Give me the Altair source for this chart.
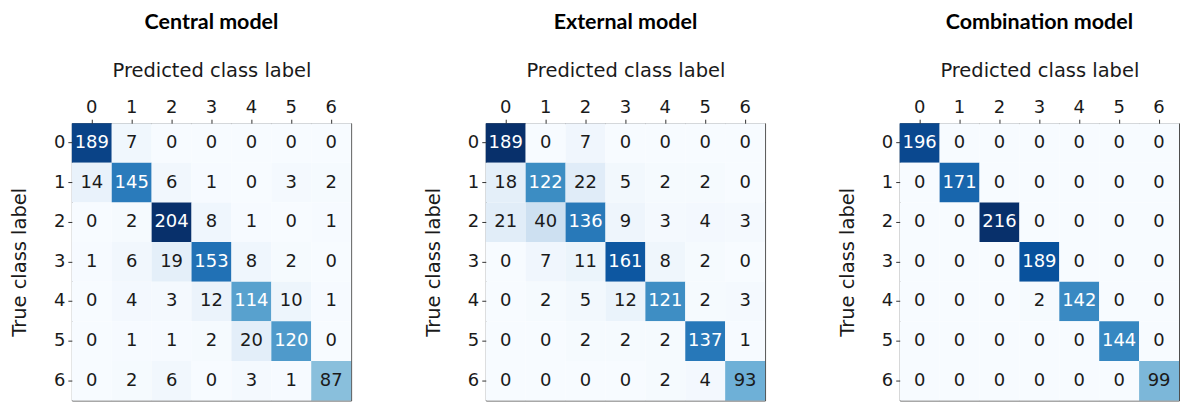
import altair as alt
import pandas as pd

classes = [0, 1, 2, 3, 4, 5, 6]

central = [
    [189, 7, 0, 0, 0, 0, 0],
    [14, 145, 6, 1, 0, 3, 2],
    [0, 2, 204, 8, 1, 0, 1],
    [1, 6, 19, 153, 8, 2, 0],
    [0, 4, 3, 12, 114, 10, 1],
    [0, 1, 1, 2, 20, 120, 0],
    [0, 2, 6, 0, 3, 1, 87],
]

external = [
    [189, 0, 7, 0, 0, 0, 0],
    [18, 122, 22, 5, 2, 2, 0],
    [21, 40, 136, 9, 3, 4, 3],
    [0, 7, 11, 161, 8, 2, 0],
    [0, 2, 5, 12, 121, 2, 3],
    [0, 0, 2, 2, 2, 137, 1],
    [0, 0, 0, 0, 2, 4, 93],
]

combination = [
    [196, 0, 0, 0, 0, 0, 0],
    [0, 171, 0, 0, 0, 0, 0],
    [0, 0, 216, 0, 0, 0, 0],
    [0, 0, 0, 189, 0, 0, 0],
    [0, 0, 0, 2, 142, 0, 0],
    [0, 0, 0, 0, 0, 144, 0],
    [0, 0, 0, 0, 0, 0, 99],
]

titles = ["Central model", "External model", "Combination model"]

blues = ["#f7fbff", "#deebf7", "#c6dbef", "#9ecae1", "#6baed6",
         "#4292c6", "#2171b5", "#08519c", "#08306b"]

W = 280
H = 278


def panel(matrix, title):
    recs = []
    for i, row in enumerate(matrix):
        for j, v in enumerate(row):
            recs.append({"true": classes[i], "pred": classes[j], "n": v})
    df = pd.DataFrame(recs)
    vmax = max(max(r) for r in matrix)
    dom = [vmax * k / 8 for k in range(9)]
    base = alt.Chart(df).encode(
        x=alt.X("pred:O", scale=alt.Scale(paddingInner=0, paddingOuter=0),
                axis=alt.Axis(orient="top", title="Predicted class label", labelAngle=0,
                              titlePadding=18)),
        y=alt.Y("true:O", scale=alt.Scale(paddingInner=0, paddingOuter=0),
                axis=alt.Axis(orient="left", title="True class label", titlePadding=24)),
    )
    rect = base.mark_rect().encode(
        color=alt.Color("n:Q", scale=alt.Scale(domain=dom, range=blues), legend=None)
    )
    text = base.mark_text(font="DejaVu Sans", fontSize=18).encode(
        text="n:Q",
        color=alt.condition(alt.datum.n > vmax / 2, alt.value("white"), alt.value("#1a1a1a")),
    )
    return (rect + text).properties(
        width=W, height=H,
        title=alt.TitleParams(title, font="Lato", fontSize=21.5, fontWeight="bold",
                              color="black", offset=27, anchor="middle"),
    )


chart = alt.hconcat(
    panel(central, titles[0]),
    panel(external, titles[1]),
    panel(combination, titles[2]),
    spacing=71,
).resolve_scale(color="independent").configure_view(
    stroke="#4d4d4d", strokeWidth=1
).configure_axis(
    domain=False, ticks=True, tickSize=4, tickColor="#333333",
    labelFont="DejaVu Sans", labelFontSize=18, labelColor="#1a1a1a", labelPadding=3,
    titleFont="DejaVu Sans", titleFontSize=19.5, titleFontWeight="normal", titleColor="#1a1a1a",
    grid=False,
).properties(
    padding={"left": 1, "top": 3, "right": 0, "bottom": 0},
    background="white",
)

chart.save("out.html", embed_options={"renderer": "svg", "actions": False})
